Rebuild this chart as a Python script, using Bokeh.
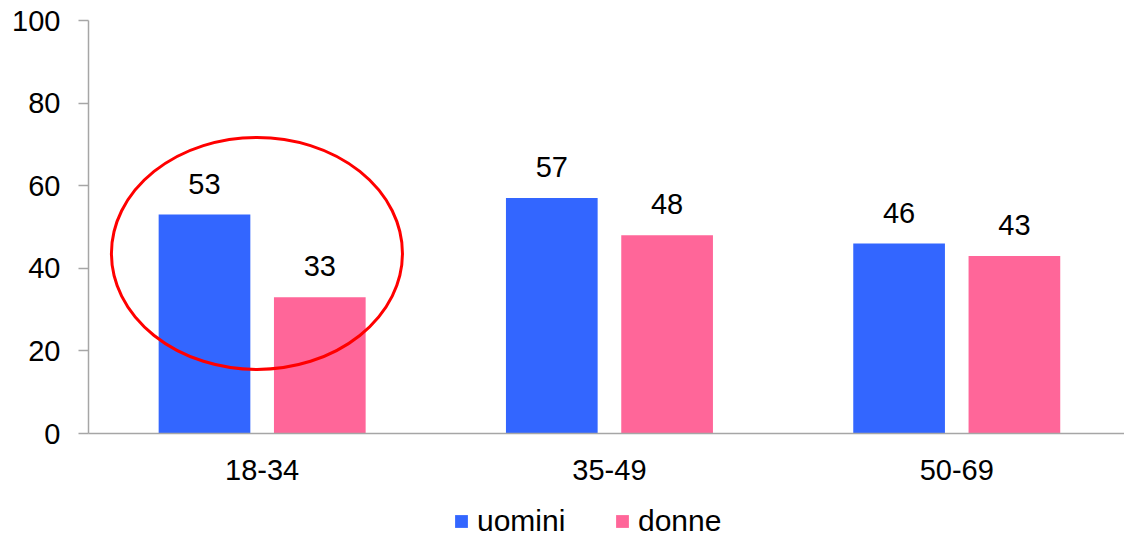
from bokeh.plotting import figure
from bokeh.layouts import column
from bokeh.models import ColumnDataSource, Legend, LegendItem, FixedTicker, Range1d
from bokeh.core.properties import value
from bokeh.embed import file_html
from bokeh.resources import INLINE

categories = ["18-34", "35-49", "50-69"]
uomini = [53, 57, 46]
donne = [33, 48, 43]
series_names = ["uomini", "donne"]
y_ticks = [0, 20, 40, 60, 80, 100]

BLUE = "#3366FF"
PINK = "#FF6699"
AXIS = "#A6A6A6"
FONT = "Liberation Sans"
FS = "29px"

centers = [i + 0.5 for i in range(len(categories))]
off = 0.166
bw = 0.264

src_u = ColumnDataSource(dict(x=[c - off for c in centers], top=uomini,
                              lab=[str(v) for v in uomini]))
src_d = ColumnDataSource(dict(x=[c + off for c in centers], top=donne,
                              lab=[str(v) for v in donne]))

p = figure(width=1124, height=492, output_backend="svg", toolbar_location=None,
           x_range=Range1d(0, 2.983), y_range=Range1d(0, 100),
           min_border_left=88, min_border_top=20, min_border_bottom=59,
           min_border_right=0)
p.outline_line_color = None
p.grid.visible = False

p.vbar(x="x", top="top", width=bw, source=src_u, fill_color=BLUE, line_color=None)
p.vbar(x="x", top="top", width=bw, source=src_d, fill_color=PINK, line_color=None)

for s in (src_u, src_d):
    p.text(x="x", y="top", text="lab", source=s, text_align="center",
           text_baseline="alphabetic", y_offset=-31,
           text_font=value(FONT), text_font_size=FS, text_color="black")

# highlight ellipse around first group
p.ellipse(x=centers[0] - 0.015, y=43.6, width=0.838, height=56.2,
          fill_color=None, line_color="red", line_width=3)

# axes
p.xaxis.ticker = FixedTicker(ticks=centers)
p.xaxis.major_label_overrides = {c: cat for c, cat in zip(centers, categories)}
p.xaxis.major_tick_out = 0
p.xaxis.major_tick_in = 0
p.xaxis.minor_tick_line_color = None
p.xaxis.major_label_standoff = 26
p.yaxis.ticker = FixedTicker(ticks=y_ticks)
p.yaxis.major_tick_out = 10
p.yaxis.major_tick_in = 0
p.yaxis.minor_tick_line_color = None
p.yaxis.major_label_standoff = 18
for ax in (p.xaxis, p.yaxis):
    ax.axis_line_color = AXIS
    ax.axis_line_width = 1.5
    ax.major_tick_line_color = AXIS
    ax.major_tick_line_width = 1.5
    ax.major_label_text_font = FONT
    ax.major_label_text_font_size = FS
    ax.major_label_text_color = "black"

# legend strip below the chart
pl = figure(width=1124, height=47, output_backend="svg", toolbar_location=None,
            x_range=Range1d(0, 1124), y_range=Range1d(0, 47), min_border=0,
            x_axis_location=None, y_axis_location=None)
pl.outline_line_color = None
pl.grid.visible = False
nan = float("nan")
lu = pl.vbar(x=[nan], top=[nan], width=1, fill_color=BLUE, line_color=None)
ld = pl.vbar(x=[nan], top=[nan], width=1, fill_color=PINK, line_color=None)
legend = Legend(items=[LegendItem(label=series_names[0], renderers=[lu], index=0),
                       LegendItem(label=series_names[1], renderers=[ld], index=0)],
                orientation="horizontal", location=(365, 1),
                glyph_width=16, glyph_height=16, label_standoff=8,
                label_width=120, spacing=17,
                padding=0, margin=0, border_line_color=None,
                background_fill_alpha=0,
                label_text_font=FONT, label_text_font_size="30px",
                label_text_color="black")
pl.add_layout(legend, "center")

open("out.html", "w").write(file_html(column(p, pl, spacing=0), INLINE))
